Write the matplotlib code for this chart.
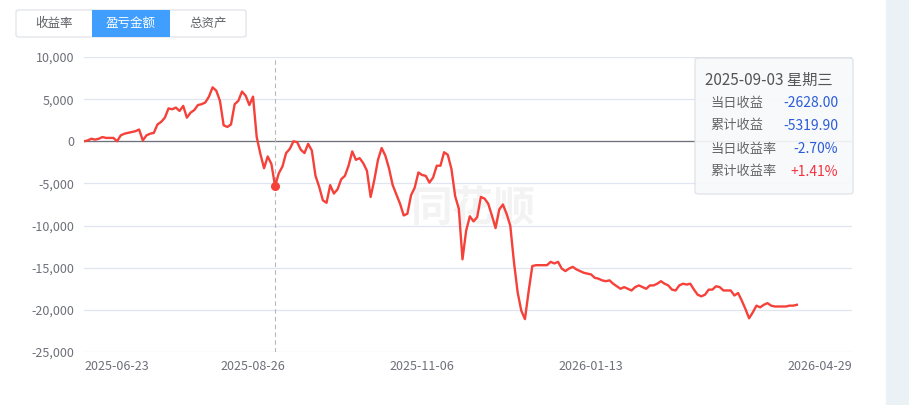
import numpy as np
import matplotlib
matplotlib.use("Agg")
import matplotlib.pyplot as plt
from matplotlib.patches import FancyBboxPatch, Rectangle
from matplotlib.ticker import FuncFormatter

plt.rcParams['font.family'] = ['Noto Sans CJK SC', 'DejaVu Sans']

# cumulative profit/loss per trading day (index 0 = 2025-06-23)
profit = [
    0, 100, 300, 200, 300, 500, 400, 400, 400, 0,
    700, 900, 1000, 1100, 1200, 1400, 100, 700, 900, 1000,
    2000, 2300, 2800, 3900, 3800, 4000, 3600, 4200, 2800, 3400,
    3700, 4300, 4400, 4600, 5300, 6400, 6000, 4800, 1900, 1700,
    2000, 4400, 4800, 5900, 5400, 4300, 5300, 500, -1500, -3200,
    -1800, -2692, -5320, -3800, -3000, -1400, -900, 0, -100, -1000,
    -1400, -300, -1100, -4100, -5400, -7000, -7300, -5200, -6200, -5700,
    -4500, -4100, -2900, -1200, -2200, -2000, -2600, -3500, -6600, -4600,
    -2200, -800, -1700, -3200, -5200, -6300, -7400, -8800, -8600, -6400,
    -5500, -3700, -4000, -4100, -4900, -4300, -2900, -2900, -1300, -1600,
    -3300, -6500, -8000, -14000, -10600, -8900, -9500, -9000, -6600, -6800,
    -7400, -8800, -10300, -8100, -7500, -8600, -10000, -14300, -17900, -20100,
    -21100, -17800, -14800, -14700, -14700, -14700, -14700, -14300, -14500, -14300,
    -15100, -15400, -15100, -14900, -15200, -15400, -15600, -15700, -15800, -16200,
    -16300, -16500, -16600, -16500, -16900, -17200, -17500, -17300, -17500, -17700,
    -17300, -17100, -17300, -17500, -17100, -17100, -16900, -16600, -16900, -17100,
    -17600, -17700, -17100, -16900, -17000, -16900, -17600, -18200, -18400, -18200,
    -17600, -17600, -17200, -17300, -17700, -17700, -17700, -18300, -18000, -18900,
    -19900, -21000, -20300, -19500, -19700, -19400, -19200, -19500, -19600, -19600,
    -19600, -19600, -19500, -19500, -19400,
]
n_days = 210
tick_idx = [0, 46, 92, 138, 209]
tick_labels = ['2025-06-23', '2025-08-26', '2025-11-06', '2026-01-13', '2026-04-29']
y_ticks = [10000, 5000, 0, -5000, -10000, -15000, -20000, -25000]
hover_idx = 52

tabs = ['收益率', '盈亏金额', '总资产']
tip_title = '2025-09-03 星期三'
tip_rows = [('当日收益', '-2628.00', '#2b5bd8'),
            ('累计收益', '-5319.90', '#2b5bd8'),
            ('当日收益率', '-2.70%', '#2b5bd8'),
            ('累计收益率', '+1.41%', '#f5323f')]

W, H = 909, 405
fig = plt.figure(figsize=(W / 100, H / 100), dpi=100)


def fx(px):
    return px / W


def fy(py):
    return 1 - py / H


ax = fig.add_axes([fx(84), fy(352), fx(852) - fx(84), fy(57) - fy(352)])
x = np.arange(len(profit))
ax.plot(x, profit, color='#f5413a', lw=1.7, zorder=3, solid_joinstyle='round')
ax.axhline(0, color='#6e7079', lw=0.9, zorder=2)
ax.axvline(hover_idx, color='#b8b8b8', lw=0.8, ls=(0, (4, 3)), zorder=2)
ax.plot(hover_idx, profit[hover_idx], 'o', color='#f5413a', ms=5.5, zorder=4)

ax.set_xlim(0, n_days - 1)
ax.set_ylim(-25000, 10000)
ax.set_yticks(y_ticks)
ax.yaxis.set_major_formatter(FuncFormatter(lambda v, p: f'{int(v):,}'))
ax.set_xticks(tick_idx)
ax.set_xticklabels(tick_labels)
for i, lab in enumerate(ax.get_xticklabels()):
    if i == 0:
        lab.set_ha('left')
    elif i == len(tick_idx) - 1:
        lab.set_ha('right')
ax.grid(axis='y', color='#e0e6f1', lw=0.9, zorder=0)
ax.tick_params(length=0, labelsize=9, colors='#6e7079', pad=7)
ax.tick_params(axis='x', pad=6)
for s in ax.spines.values():
    s.set_visible(False)

# faint watermark
ax.text(0.507, 0.485, '同花顺', transform=ax.transAxes, fontsize=30, color='#f3f3f3',
        style='italic', fontweight='bold', ha='center', va='center', zorder=1)

# right side panel
fig.patches.append(Rectangle((fx(886), 0), 1 - fx(886), 1, transform=fig.transFigure,
                             color='#ebf2f6', zorder=0))

# tab buttons
fig.patches.append(FancyBboxPatch((fx(16), fy(37)), fx(230), fy(10) - fy(37),
                                  boxstyle='round,pad=0,rounding_size=0.004',
                                  transform=fig.transFigure, fc='white', ec='#dcdfe6',
                                  lw=0.8, zorder=1))
fig.patches.append(Rectangle((fx(92), fy(37)), fx(78), fy(10) - fy(37),
                             transform=fig.transFigure, fc='#409eff', ec='none', zorder=2))
for name, cx in zip(tabs, [54, 131, 208]):
    fig.text(fx(cx), fy(23.5), name, ha='center', va='center', fontsize=9,
             color='white' if name == '盈亏金额' else '#606266', zorder=3)

# tooltip
fig.patches.append(FancyBboxPatch((fx(695), fy(194)), fx(158), fy(58) - fy(194),
                                  boxstyle='round,pad=0,rounding_size=0.005',
                                  transform=fig.transFigure, fc='#f8f9fb', ec='#d9dde3',
                                  lw=0.8, alpha=0.92, zorder=5))
fig.text(fx(705), fy(80), tip_title, ha='left', va='center', fontsize=11,
         color='#555555', zorder=6)
for (lab, val, col), py in zip(tip_rows, [103, 126, 149, 172]):
    fig.text(fx(710), fy(py), lab, ha='left', va='center', fontsize=9.5,
             color='#666666', zorder=6)
    fig.text(fx(838), fy(py), val, ha='right', va='center', fontsize=10,
             color=col, zorder=6)

fig.savefig('out.png', dpi=100)
